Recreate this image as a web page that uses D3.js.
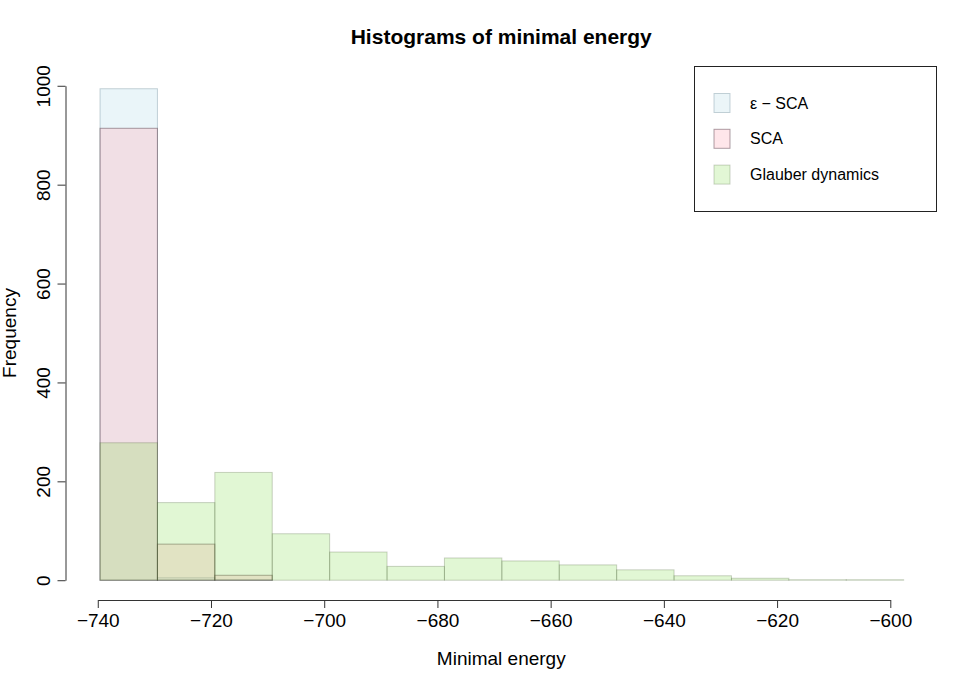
<!DOCTYPE html>
<html>
<head>
<meta charset="utf-8">
<script src="https://cdn.jsdelivr.net/npm/d3@7"></script>
<style>
  body { margin: 0; background: #ffffff; }
  svg { display: block; font-family: "Liberation Sans", Arial, Helvetica, sans-serif; }
</style>
</head>
<body>
<svg id="chart" width="970" height="686"></svg>
<script>
// histogram breaks (shared by the three series)
const breaks = [-739.6, -729.46, -719.32, -709.18, -699.04, -688.9, -678.76, -668.62,
                -658.48, -648.34, -638.2, -628.06, -617.92, -607.78, -597.64];
// counts per bin
const epsSCA = [994, 5, 1, 0, 0, 0, 0, 0, 0, 0, 0, 0, 0, 0];
const sca = [914, 73, 10, 0, 0, 0, 0, 0, 0, 0, 0, 0, 0, 0];
const glauber = [278, 157, 218, 94, 57, 28, 45, 39, 31, 21, 9, 4, 1, 1];

const xTicks = [-740, -720, -700, -680, -660, -640, -620, -600];
const yTicks = [0, 200, 400, 600, 800, 1000];
const seriesNames = ["ε − SCA", "SCA", "Glauber dynamics"];

const fills = ["rgba(173,216,230,0.25)", "rgba(255,182,193,0.35)", "rgba(120,220,60,0.22)"];
const strokes = ["rgba(70,110,125,0.3)", "rgba(60,30,45,0.42)", "rgba(60,80,40,0.25)"];
const legendFills = ["#ebf5f8", "#ffe6ea", "#e2f7d5"];

const width = 970, height = 686;
const plot = { left: 65.5, right: 937, top: 66, bottom: 600 };

var svg = d3.select("#chart");

var x = d3.scaleLinear().domain([-745.7, -591.75]).range([plot.left, plot.right]);
var y = d3.scaleLinear().domain([-40, 1040]).range([plot.bottom, plot.top]);

// bars, drawn in legend order so the overlaps blend
var allSeries = [epsSCA, sca, glauber];
allSeries.forEach(function (counts, i) {
    var bins = counts.map(function (c, j) {
        return { x0: breaks[j], x1: breaks[j + 1], n: c };
    });
    svg.append("g")
        .attr("class", "series-" + i)
        .selectAll("rect")
        .data(bins)
        .join("rect")
        .attr("x", d => x(d.x0))
        .attr("y", d => y(d.n))
        .attr("width", d => x(d.x1) - x(d.x0))
        .attr("height", d => y(0) - y(d.n))
        .attr("fill", fills[i])
        .attr("stroke", strokes[i])
        .attr("stroke-width", 1);
});

// axes only span first to last tick, like R
var xAxisScale = d3.scaleLinear().domain([-740, -600]).range([x(-740), x(-600)]);
var xAxis = svg.append("g")
    .attr("transform", `translate(0,${plot.bottom})`)
    .call(d3.axisBottom(xAxisScale).tickValues(xTicks).tickSize(8).tickSizeOuter(0).tickPadding(6));
xAxis.selectAll("text").style("font-size", "19px").attr("fill", "#000");
xAxis.selectAll("line").attr("stroke", "#333");
xAxis.select(".domain").attr("stroke", "#333");

var yAxisScale = d3.scaleLinear().domain([0, 1000]).range([y(0), y(1000)]);
var yAxis = svg.append("g")
    .attr("transform", `translate(${plot.left},0)`)
    .call(d3.axisLeft(yAxisScale).tickValues(yTicks).tickSize(8).tickSizeOuter(0).tickFormat(d3.format("d")));
yAxis.selectAll("line").attr("stroke", "#333");
yAxis.select(".domain").attr("stroke", "#333");
yAxis.selectAll("text")
    .style("font-size", "19px")
    .attr("fill", "#000")
    .attr("text-anchor", "middle")
    .attr("dy", null)
    .attr("x", null)
    .attr("transform", "translate(-15.5,0) rotate(-90)");

// titles
svg.append("text")
    .attr("x", (plot.left + plot.right) / 2)
    .attr("y", 43.5)
    .attr("text-anchor", "middle")
    .style("font-size", "21px")
    .style("font-weight", "bold")
    .text("Histograms of minimal energy");

svg.append("text")
    .attr("x", (plot.left + plot.right) / 2)
    .attr("y", 664.5)
    .attr("text-anchor", "middle")
    .style("font-size", "19px")
    .text("Minimal energy");

svg.append("text")
    .attr("transform", `translate(16,${(plot.top + plot.bottom) / 2}) rotate(-90)`)
    .attr("text-anchor", "middle")
    .style("font-size", "19px")
    .text("Frequency");

// legend
var legend = svg.append("g").attr("id", "legend");
legend.append("rect")
    .attr("x", 694.5)
    .attr("y", 66.5)
    .attr("width", 242)
    .attr("height", 145)
    .attr("fill", "white")
    .attr("stroke", "#222")
    .attr("stroke-width", 1);

seriesNames.forEach(function (name, i) {
    var cy = 103 + i * 35.8;
    legend.append("rect")
        .attr("x", 714)
        .attr("y", cy - 9.5)
        .attr("width", 16)
        .attr("height", 19)
        .attr("fill", legendFills[i])
        .attr("stroke", strokes[i]);
    legend.append("text")
        .attr("x", 750)
        .attr("y", cy + 5.5)
        .style("font-size", "16px")
        .text(name);
});
</script>
</body>
</html>
